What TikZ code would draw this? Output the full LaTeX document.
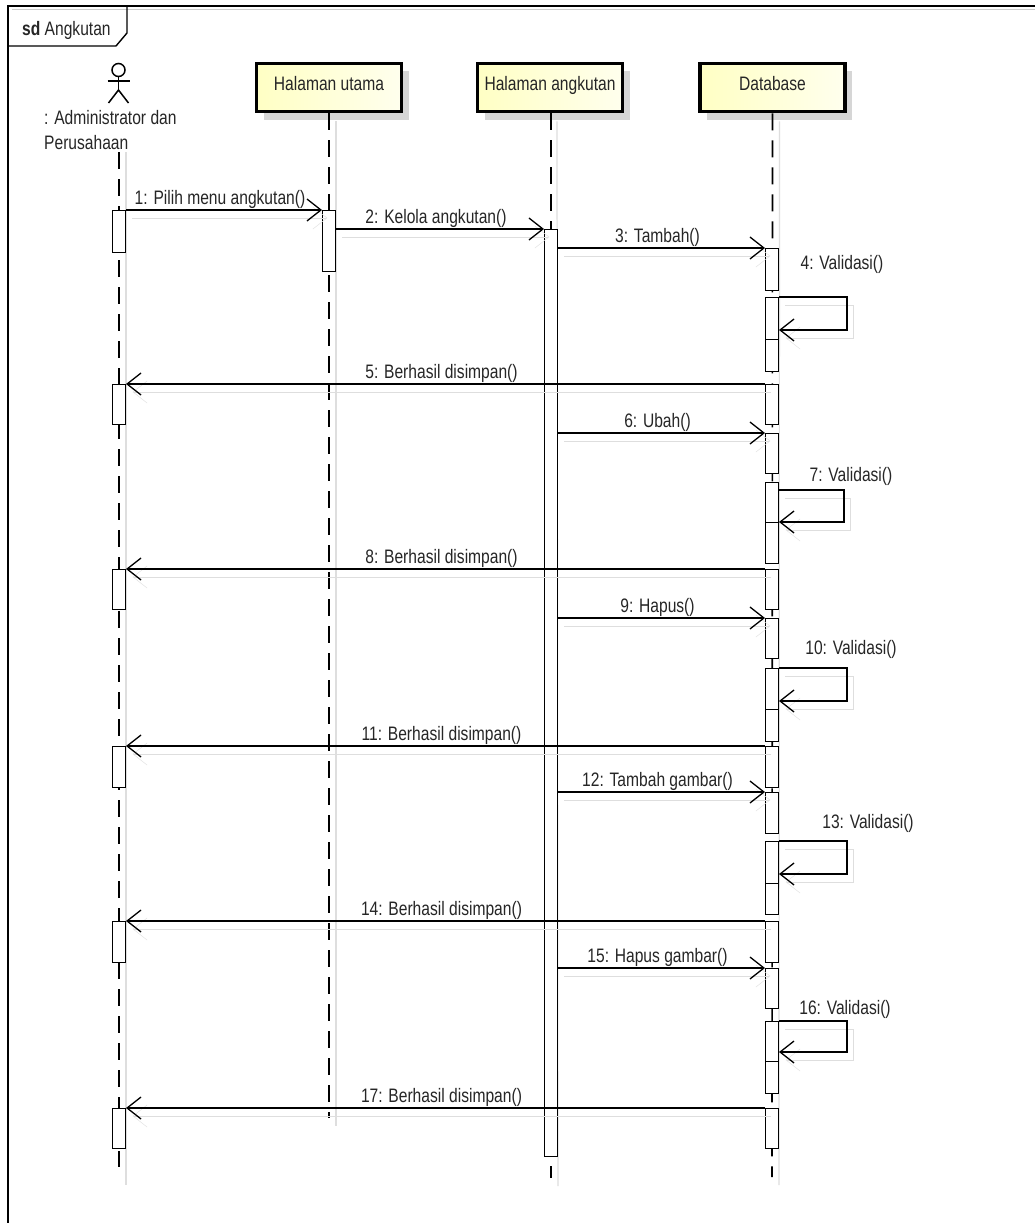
\documentclass[tikz,border=0pt]{standalone}
\usepackage{fontspec}
\setmainfont{Liberation Sans}[FakeStretch=0.8]
\usepackage{tikz}
\usetikzlibrary{arrows.meta,shadows}

\definecolor{lifebox}{RGB}{255,255,196}

\tikzset{
  obj/.style={draw, line width=3.5pt, left color=lifebox, right color=lifebox!30,
    minimum width=145pt, minimum height=48pt, inner sep=0pt, text height=14pt, text depth=9pt,
    drop shadow={shadow xshift=7pt, shadow yshift=-8pt, fill=black!16, opacity=1}},
  bar/.style={draw, fill=white, line width=1pt, minimum width=13pt, inner sep=0pt, anchor=north},
  lifeline/.style={line width=1.6pt, dash pattern=on 17pt off 10pt},
  lshadow/.style={black!13, line width=1.2pt},
  msg/.style={line width=1.3pt, -{Straight Barb[length=14pt,width=22pt,line width=1.3pt]},
    preaction={draw=black!13, transform canvas={shift={(6pt,-8pt)}}}},
  lbl/.style={above, inner sep=1pt, xshift=-4pt}
}

\begin{document}
\begin{tikzpicture}[x=1pt,y=-1pt,font=\fontsize{19.5}{25}\selectfont,text=black!85]
\useasboundingbox (0,0) rectangle (1035,1223);
\fill[white] (0,0) rectangle (1035,1223);

% frame
\draw[black!20, line width=1.2pt] (12,9.5) -- (1045,9.5);
\draw[line width=1.4pt] (8,1240) -- (8,6) -- (1045,6);
\draw[line width=1.4pt] (8,46) -- (116,46) -- (127,33) -- (127,6);
\node[anchor=west, inner sep=0pt] (sd) at (22,30) {\textbf{sd} Angkutan};

% actor
\draw[line width=1.5pt] (118.5,70) circle (6.5);
\draw[line width=1.5pt] (107.5,81) -- (129.5,81);
\draw[line width=1.5pt] (118.5,76.5) -- (118.5,90);
\draw[line width=1.5pt] (108.5,103) -- (118.5,90) -- (128.5,103);
\node[align=left, anchor=north west, inner sep=0pt] (actor) at (44,110) {: Administrator dan\\Perusahaan};

% lifeline heads
\node[obj] (hu) at (329,87.5) {Halaman utama};
\node[obj] (ha) at (550,87.5) {Halaman angkutan};
\node[obj] (db) at (772.5,87.5) {Database};

\coordinate (actortop) at (119,152);
\coordinate (actorend) at (119,1167);
\coordinate (huend) at (329,1118);
\coordinate (haend) at (551,1178);
\coordinate (dbend) at (772,1177);

% lifelines
\draw[lshadow] ([xshift=7pt]actortop) -- ([xshift=7pt,yshift=-18pt]actorend);
\draw[lshadow] ([xshift=7pt,yshift=-8pt]hu.south) -- ([xshift=7pt,yshift=-8pt]huend);
\draw[lshadow] ([xshift=7pt,yshift=-8pt]ha.south) -- ([xshift=7pt,yshift=-8pt]haend);
\draw[lshadow] ([xshift=7pt,yshift=-8pt]db.south) -- ([xshift=7pt,yshift=-8pt]dbend);
\draw[lifeline] (actortop) -- (actorend);
\draw[lifeline] (hu.south) -- (huend);
\draw[lifeline] (ha.south -| haend) -- (haend);
\draw[lifeline] (db.south) -- (dbend);

% activations
\foreach \n/\t/\h in {1/210/42, 2/384/40, 3/569/40, 4/746/41, 5/921/41, 6/1108/40}
  \node[bar, minimum height=\h pt] (a\n) at (119,\t) {};
\node[bar, minimum height=61pt] (hu1) at (329,210) {};
\node[bar, minimum height=927pt] (ha1) at (551,229) {};
\foreach \n/\t/\h in {1/248/42, 2/297/74, 3/384/40, 4/433/40, 5/482/81, 6/569/40, 7/618/40,
    8/668/73, 9/746/41, 10/792/41, 11/841/73, 12/921/41, 13/968/40, 14/1021/72, 15/1108/40}
  \node[bar, minimum height=\h pt] (db\n) at (772,\t) {};
\foreach \n/\y in {2/339, 5/522, 8/709, 11/883, 14/1061}
  \draw[line width=1pt] (db\n.west |- 0,\y) -- (db\n.east |- 0,\y);

% messages
\draw[msg] (a1.north east) -- node[lbl] (m1) {1: Pilih menu angkutan()} (hu1.north west);
\draw[msg] (hu1.east |- ha1.north) -- node[lbl] (m2) {2: Kelola angkutan()} (ha1.north west);
\draw[msg] (ha1.east |- db1.north) -- node[lbl] (m3) {3: Tambah()} (db1.north west);
\draw[msg] (db2.north east) -- ++(68,0) |- (db2.east |- 0,330);
\node (m4) at (842,264) {4: Validasi()};
\draw[msg] (db3.north west) -- node[lbl] (m5) {5: Berhasil disimpan()} (a2.north east);
\draw[msg] (ha1.east |- db4.north) -- node[lbl] (m6) {6: Ubah()} (db4.north west);
\draw[msg] (db5.east |- 0,490) -- ++(65,0) |- (db5.east |- 0,522);
\node (m7) at (851,476) {7: Validasi()};
\draw[msg] (db6.north west) -- node[lbl] (m8) {8: Berhasil disimpan()} (a3.north east);
\draw[msg] (ha1.east |- db7.north) -- node[lbl] (m9) {9: Hapus()} (db7.north west);
\draw[msg] (db8.north east) -- ++(68,0) |- (db8.east |- 0,701);
\node (m10) at (851,649) {10: Validasi()};
\draw[msg] (db9.north west) -- node[lbl] (m11) {11: Berhasil disimpan()} (a4.north east);
\draw[msg] (ha1.east |- db10.north) -- node[lbl] (m12) {12: Tambah gambar()} (db10.north west);
\draw[msg] (db11.north east) -- ++(68,0) |- (db11.east |- 0,874);
\node (m13) at (868,823) {13: Validasi()};
\draw[msg] (db12.north west) -- node[lbl] (m14) {14: Berhasil disimpan()} (a5.north east);
\draw[msg] (ha1.east |- db13.north) -- node[lbl] (m15) {15: Hapus gambar()} (db13.north west);
\draw[msg] (db14.north east) -- ++(68,0) |- (db14.east |- 0,1052);
\node (m16) at (845,1009) {16: Validasi()};
\draw[msg] (db15.north west) -- node[lbl] (m17) {17: Berhasil disimpan()} (a6.north east);
\end{tikzpicture}
\end{document}
